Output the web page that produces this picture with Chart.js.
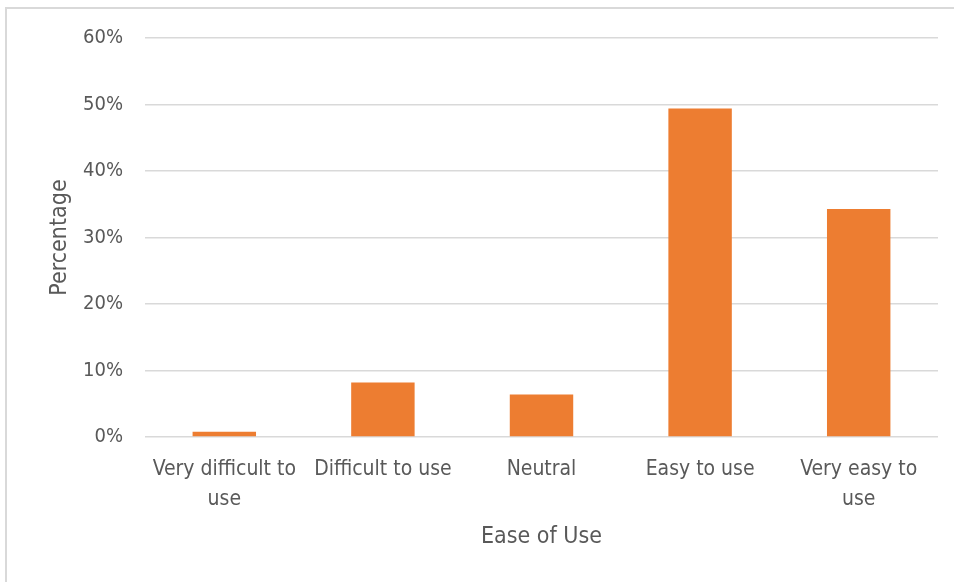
<!DOCTYPE html>
<html>
<head>
<meta charset="utf-8">
<script src="https://cdn.jsdelivr.net/npm/chart.js@4/dist/chart.umd.min.js"></script>
<style>
  html, body { margin: 0; padding: 0; background: #fff; }
  #wrap { position: relative; width: 954px; height: 582px; }
  canvas { display: block; }
</style>
</head>
<body>
<div id="wrap"><canvas id="chart" width="954" height="582"></canvas></div>
<script>
// Survey responses: perceived ease of use
const categories = [
  ["Very difficult to", "use"],
  "Difficult to use",
  "Neutral",
  "Easy to use",
  ["Very easy to", "use"]
];
const percentages = [0.8, 8.2, 6.4, 49.4, 34.3];
const yTicks = [0, 10, 20, 30, 40, 50, 60];

const FONT = "'Liberation Sans Narrow', 'DejaVu Sans Condensed', 'Open Sans', sans-serif";
const TEXT = '#595959';
const GRID = '#d9d9d9';

// light frame along the top and left edges
const framePlugin = {
  id: 'frame',
  beforeDraw(chart) {
    const ctx = chart.ctx;
    ctx.save();
    ctx.strokeStyle = '#d9d9d9';
    ctx.lineWidth = 2;
    ctx.beginPath();
    ctx.moveTo(6, 582);
    ctx.lineTo(6, 8);
    ctx.lineTo(954, 8);
    ctx.stroke();
    ctx.restore();
  }
};

new Chart(document.getElementById('chart'), {
  type: 'bar',
  data: {
    labels: categories,
    datasets: [{
      data: percentages,
      backgroundColor: '#ED7D31',
      borderWidth: 0,
      categoryPercentage: 1.0,
      barPercentage: 0.4
    }]
  },
  options: {
    responsive: false,
    animation: false,
    events: [],
    layout: { padding: { left: 0, right: 16, top: 38, bottom: 0 } },
    plugins: {
      legend: { display: false },
      tooltip: { enabled: false }
    },
    scales: {
      x: {
        grid: { display: false, drawTicks: false },
        border: { display: false },
        ticks: {
          color: TEXT,
          font: { family: FONT, size: 21, lineHeight: 1.4 },
          padding: 18,
          maxRotation: 0,
          autoSkip: false
        },
        title: {
          display: true,
          text: 'Ease of Use',
          color: TEXT,
          font: { family: FONT, size: 23, lineHeight: 1.2 },
          padding: { top: 0, bottom: 31 }
        },
        afterFit(scale) { scale.height = 145; }
      },
      y: {
        min: 0,
        max: 60,
        afterBuildTicks(scale) { scale.ticks = yTicks.map(v => ({ value: v })); },
        grid: { color: GRID, lineWidth: 1.5, drawTicks: false },
        border: { display: false },
        ticks: {
          color: TEXT,
          font: { family: FONT, size: 20 },
          padding: 22,
          callback: v => v + '%'
        },
        title: {
          display: true,
          text: 'Percentage',
          color: TEXT,
          font: { family: FONT, size: 23, lineHeight: 1.2 },
          padding: { top: 46, bottom: 0 }
        },
        afterFit(scale) { scale.width = 145; }
      }
    }
  },
  plugins: [framePlugin]
});
</script>
</body>
</html>
